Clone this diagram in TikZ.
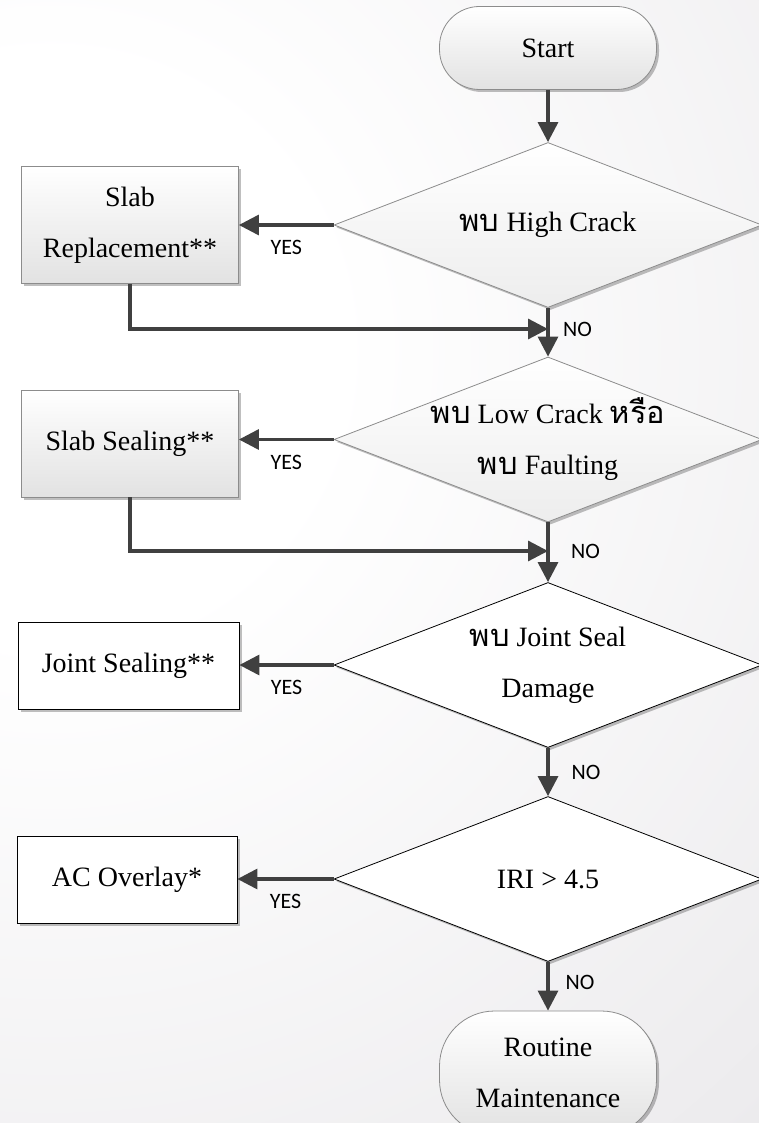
\documentclass[tikz,border=0pt]{standalone}
\usepackage{fontspec}
\setmainfont{Liberation Serif}
\newfontfamily\thaifont[Script=Thai,Scale=1.1]{Loma}
\newfontfamily\labelfont{Carlito}
\newcommand{\thai}[1]{{\thaifont #1}}
\usetikzlibrary{shapes.geometric, arrows.meta, positioning, shadows}

\definecolor{arrowgray}{HTML}{404040}
\definecolor{edgegray}{HTML}{8C8C8C}
\definecolor{bggray}{HTML}{DCDADE}
\definecolor{fillgray}{HTML}{E2E2E2}
\definecolor{palegray}{HTML}{EDEDED}
\pgfdeclareradialshading{pagebg}{\pgfpoint{0bp}{0bp}}{color(0bp)=(white); color(8bp)=(white); color(47bp)=(bggray); color(50bp)=(bggray)}

\tikzset{
  base/.style={font=\fontsize{28}{51}\selectfont, align=center, inner sep=0pt},
  grad/.style={draw=edgegray, top color=white, bottom color=fillgray},
  pale/.style={draw=edgegray, top color=white, bottom color=palegray},
  flat/.style={draw=black, fill=white},
  shadowed/.style={drop shadow={shadow xshift=2.5pt, shadow yshift=-2.5pt, opacity=0.25, fill=black}},
  terminal/.style={base, grad, shadowed, line width=0.8pt, rectangle, rounded corners=40pt, minimum width=217pt},
  process/.style={base, shadowed, line width=0.8pt, rectangle, minimum width=217pt},
  decision/.style={shadowed, line width=0.8pt, diamond, inner sep=0pt, minimum width=428pt, minimum height=165pt},
  dtext/.style={base},
  arr/.style={draw=arrowgray, line width=3.2pt, -{Triangle[length=20pt, width=20pt]}},
  lbl/.style={font=\labelfont\fontsize{22}{26}\selectfont, inner sep=0pt, text=black}
}

\begin{document}
\begin{tikzpicture}[x=1pt, y=-1pt]
  % page and background
  \useasboundingbox (0,0) rectangle (759,1123);
  \begin{scope}
    \clip (0,0) rectangle (759,1123);
    \shade[shading=pagebg] (-850,-550) rectangle (950,1250);
  \end{scope}

  % main column
  \node[terminal, minimum height=83pt] (start) at (548,48) {Start};
  \node[decision, pale] (q1) at (548,225) {};
  \node[dtext] (q1t) at (q1) {\thai{พบ} High Crack};
  \node[decision, pale] (q2) at (548,439.5) {};
  \node[dtext] (q2t) at (q2) {\thai{พบ} Low Crack \thai{หรือ}\\\thai{พบ} Faulting};
  \node[decision, flat] (q3) at (548,665) {};
  \node[dtext] (q3t) at (q3) {\thai{พบ} Joint Seal\\Damage};
  \node[decision, flat] (q4) at (548,879) {};
  \node[dtext] (q4t) at (q4) {IRI > 4.5};
  \node[terminal, rounded corners=55pt, minimum height=124pt] (finish) at (548,1073) {Routine\\Maintenance};

  % actions
  \node[process, grad, minimum height=117pt] (slab1) at (130,225) {Slab\\Replacement**};
  \node[process, grad, minimum height=107pt] (slab2) at (130,443.5) {Slab Sealing**};
  \node[process, flat, minimum width=221pt, minimum height=87pt] (joint) at (128.5,665.5) {Joint Sealing**};
  \node[process, flat, minimum width=220pt, minimum height=87pt] (overlay) at (127,879.5) {AC Overlay*};

  % YES branches
  \draw[arr] (q1.west) -- node[lbl, below=14pt] (yes1) {YES} (q1.west -| slab1.east);
  \draw[arr] (q2.west) -- node[lbl, below=14pt] (yes2) {YES} (q2.west -| slab2.east);
  \draw[arr] (q3.west) -- node[lbl, below=14pt] (yes3) {YES} (q3.west -| joint.east);
  \draw[arr] (q4.west) -- node[lbl, below=14pt] (yes4) {YES} (q4.west -| overlay.east);

  % NO branches and merges
  \coordinate (m1) at (548,329);
  \coordinate (m2) at (548,551);
  \draw[arr] (start) -- (q1);
  \draw[arr] (q1) -- (q2);
  \draw[arr] (slab1.south) |- (m1);
  \node[lbl, right=15pt of m1] (no1) {NO};
  \draw[arr] (q2) -- (q3);
  \draw[arr] (slab2.south) |- (m2);
  \node[lbl, right=23pt of m2] (no2) {NO};
  \draw[arr] (q3) -- node[lbl, right=22pt] (no3) {NO} (q4);
  \draw[arr] (q4) -- node[lbl, pos=0.43, right=16pt] (no4) {NO} (finish);
\end{tikzpicture}
\end{document}
